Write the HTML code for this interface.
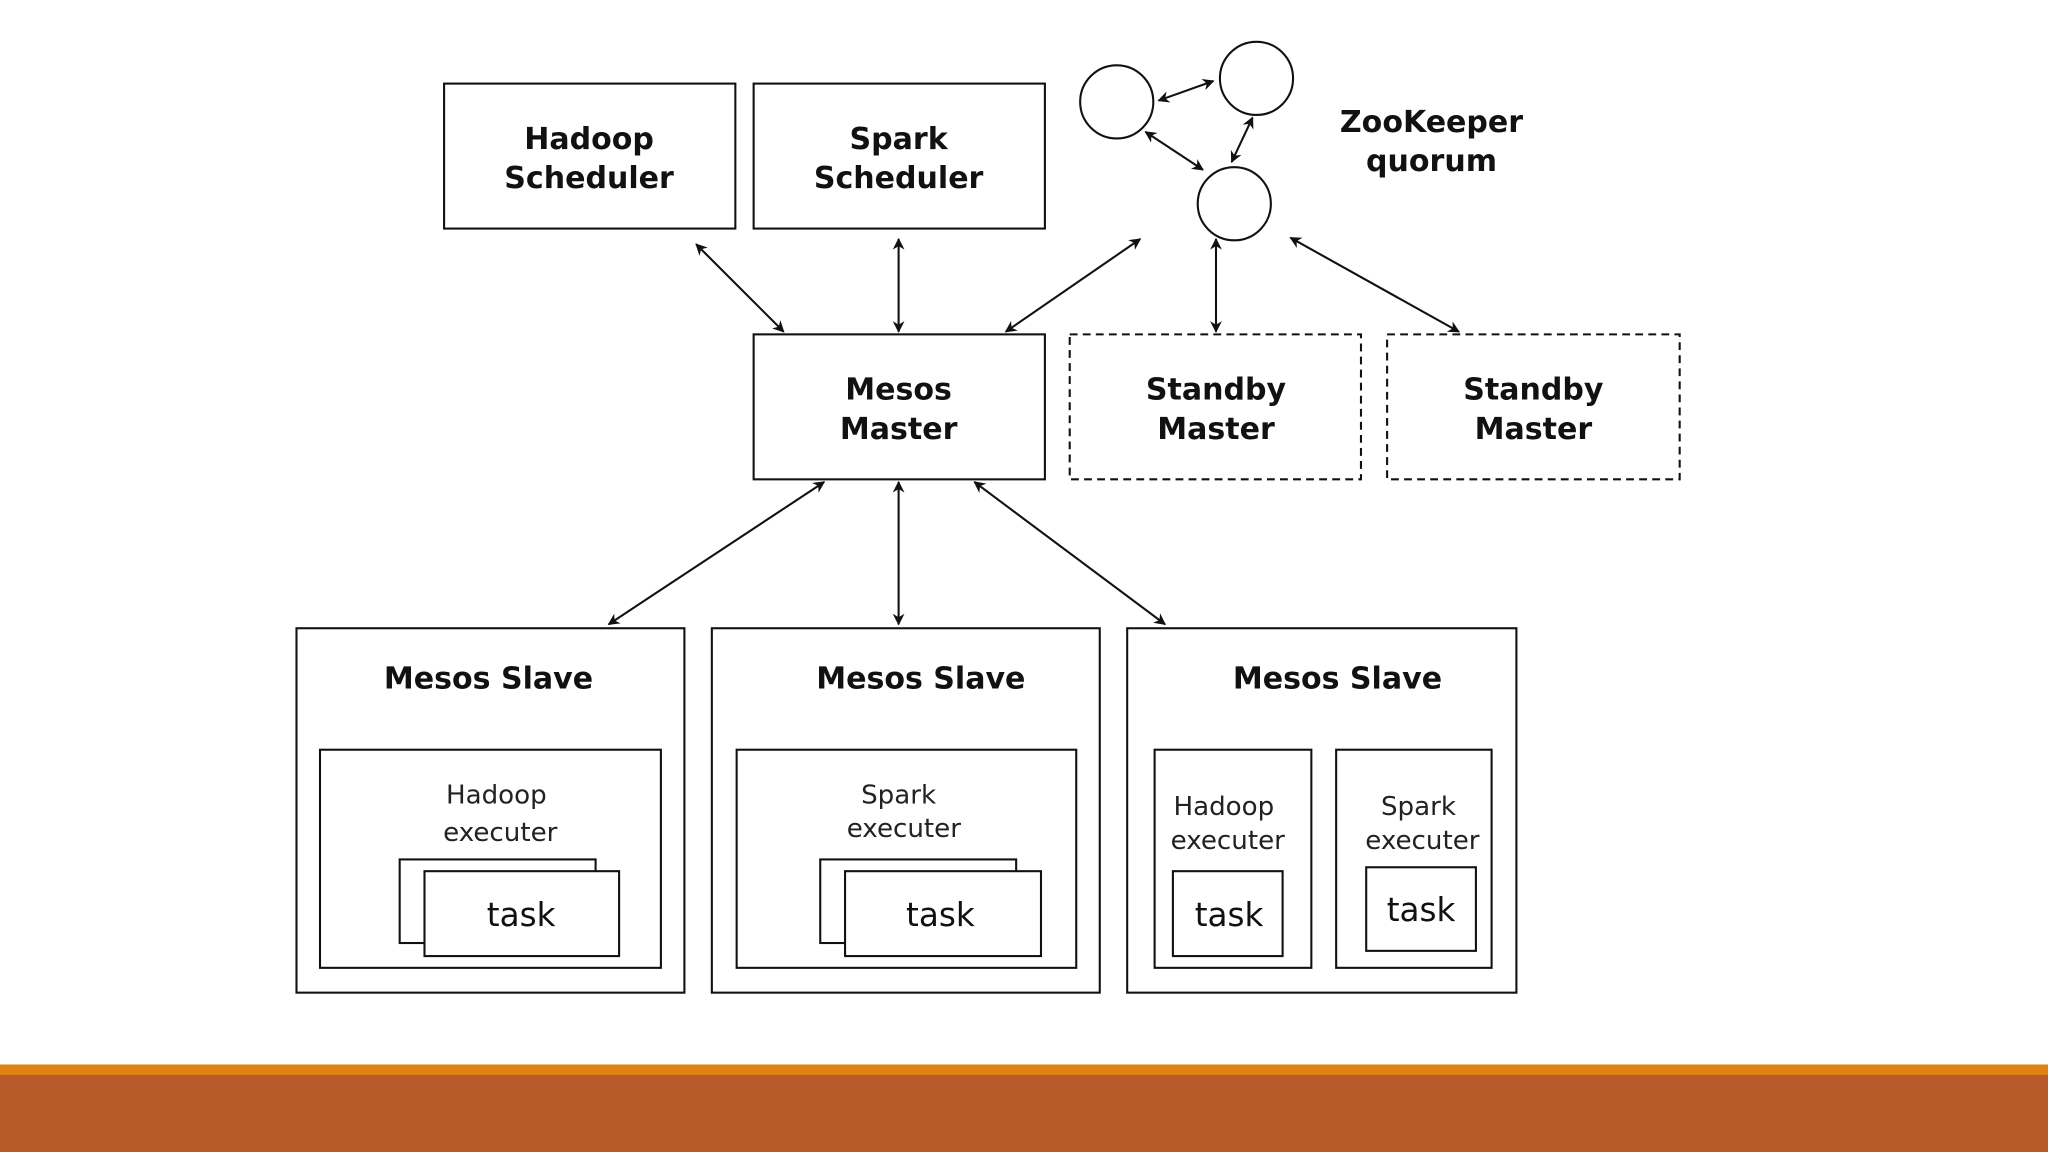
<!DOCTYPE html>
<html><head><meta charset="utf-8"><style>
html,body{margin:0;padding:0;background:#fff;width:2048px;height:1152px;overflow:hidden}
svg{display:block}
.b{font-family:"DejaVu Sans","Liberation Sans",sans-serif;font-weight:bold;font-size:23px;fill:#111;text-anchor:middle}
.n{font-family:"DejaVu Sans","Liberation Sans",sans-serif;font-size:20px;fill:#222;text-anchor:middle}
.t{font-family:"DejaVu Sans","Liberation Sans",sans-serif;font-size:25px;fill:#111;text-anchor:middle}
rect{fill:#fff;stroke:#111;stroke-width:1.6}
.d{stroke-dasharray:6 4}
line{stroke:#111;stroke-width:1.6;marker-start:url(#a);marker-end:url(#a)}
circle{fill:#fff;stroke:#111;stroke-width:1.6}
</style></head><body>
<svg width="2048" height="1152" viewBox="0 0 1568 882" xmlns="http://www.w3.org/2000/svg">
<defs><marker id="a" viewBox="0 0 10 10" refX="9" refY="5" markerWidth="9" markerHeight="9" markerUnits="userSpaceOnUse" orient="auto-start-reverse"><path d="M0,0 L10,5 L0,10 L3,5 z" fill="#111"/></marker></defs>

<rect x="340" y="64" width="223" height="111"/>
<text class="b" x="451" y="114">Hadoop</text><text class="b" x="451" y="144">Scheduler</text>
<rect x="577" y="64" width="223" height="111"/>
<text class="b" x="688" y="114">Spark</text><text class="b" x="688" y="144">Scheduler</text>

<circle cx="855" cy="78" r="28"/><circle cx="962" cy="60" r="28"/><circle cx="945" cy="156" r="28"/>
<text class="b" x="1096" y="101">ZooKeeper</text><text class="b" x="1096" y="131">quorum</text>
<line x1="887" y1="77" x2="929" y2="62"/>
<line x1="877" y1="101" x2="921" y2="130"/>
<line x1="959" y1="90" x2="943" y2="124"/>

<rect x="577" y="256" width="223" height="111"/>
<text class="b" x="688" y="306">Mesos</text><text class="b" x="688" y="336">Master</text>
<rect class="d" x="819" y="256" width="223" height="111"/>
<text class="b" x="931" y="306">Standby</text><text class="b" x="931" y="336">Master</text>
<rect class="d" x="1062" y="256" width="224" height="111"/>
<text class="b" x="1174" y="306">Standby</text><text class="b" x="1174" y="336">Master</text>

<line x1="533" y1="187" x2="600" y2="254"/>
<line x1="688" y1="183" x2="688" y2="254"/>
<line x1="873" y1="183" x2="770" y2="254"/>
<line x1="931" y1="183" x2="931" y2="254"/>
<line x1="988" y1="182" x2="1117" y2="254"/>
<line x1="631" y1="369" x2="466" y2="478"/>
<line x1="688" y1="369" x2="688" y2="478"/>
<line x1="746" y1="369" x2="892" y2="478"/>

<rect x="227" y="481" width="297" height="279"/>
<text class="b" x="374" y="527">Mesos Slave</text>
<rect x="245" y="574" width="261" height="167"/>
<text class="n" x="380" y="615">Hadoop</text><text class="n" x="383" y="644">executer</text>
<rect x="306" y="658" width="150" height="64"/>
<rect x="325" y="667" width="149" height="65"/>
<text class="t" x="399" y="709">task</text>

<rect x="545" y="481" width="297" height="279"/>
<text class="b" x="705" y="527">Mesos Slave</text>
<rect x="564" y="574" width="260" height="167"/>
<text class="n" x="688" y="615">Spark</text><text class="n" x="692" y="641">executer</text>
<rect x="628" y="658" width="150" height="64"/>
<rect x="647" y="667" width="150" height="65"/>
<text class="t" x="720" y="709">task</text>

<rect x="863" y="481" width="298" height="279"/>
<text class="b" x="1024" y="527">Mesos Slave</text>
<rect x="884" y="574" width="120" height="167"/>
<text class="n" x="937" y="624">Hadoop</text><text class="n" x="940" y="650">executer</text>
<rect x="898" y="667" width="84" height="65"/>
<text class="t" x="941" y="709">task</text>
<rect x="1023" y="574" width="119" height="167"/>
<text class="n" x="1086" y="624">Spark</text><text class="n" x="1089" y="650">executer</text>
<rect x="1046" y="664" width="84" height="64"/>
<text class="t" x="1088" y="705">task</text>

<path d="M0,815 H1568 V823 H0 z" fill="#E08214"/>
<path d="M0,823 H1568 V882 H0 z" fill="#B95A2A"/>
</svg>
</body></html>
